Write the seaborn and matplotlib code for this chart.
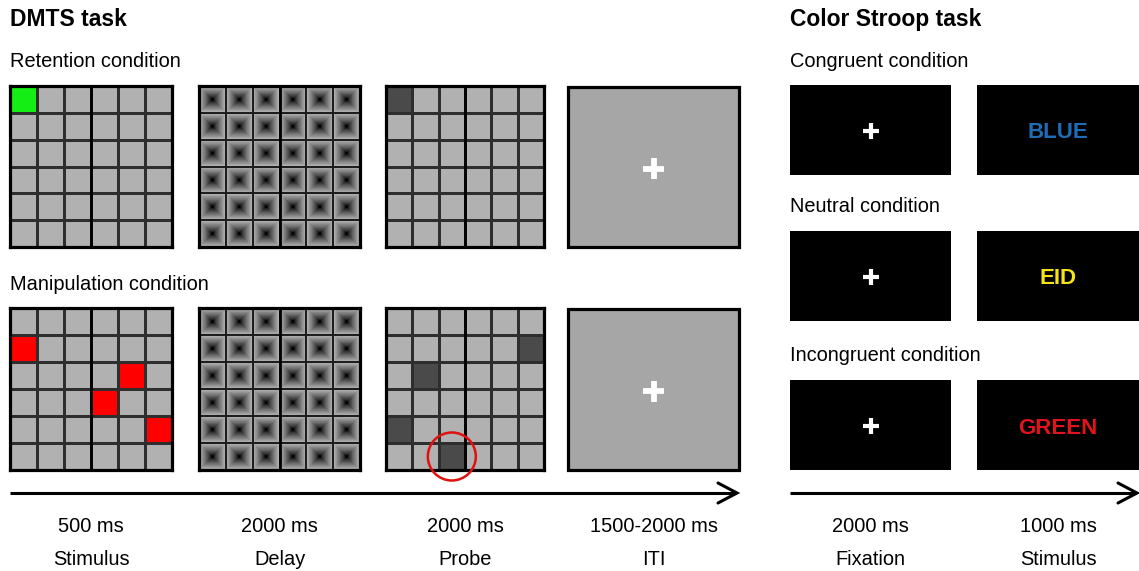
import numpy as np
import matplotlib
matplotlib.use("Agg")
import matplotlib.pyplot as plt
import seaborn as sns
from matplotlib.colors import ListedColormap
from matplotlib.patches import Rectangle, Circle

# ---------------- data ----------------
n_rows, n_cols = 6, 6
retention_stimulus = [(0, 0)]            # green cell
retention_probe = [(0, 0)]               # dark probe cell
manipulation_stimulus = [(1, 0), (2, 4), (3, 3), (4, 5)]   # red cells
manipulation_probe = [(1, 5), (2, 1), (4, 0), (5, 2)]      # dark probe cells
circled_cell = (5, 2)

dmts_conditions = ["Retention condition", "Manipulation condition"]
dmts_durations = ["500 ms", "2000 ms", "2000 ms", "1500-2000 ms"]
dmts_phases = ["Stimulus", "Delay", "Probe", "ITI"]

stroop_conditions = ["Congruent condition", "Neutral condition", "Incongruent condition"]
stroop_words = ["BLUE", "EID", "GREEN"]
stroop_word_colors = ["#1f6db6", "#f7e416", "#e3131b"]
stroop_durations = ["2000 ms", "1000 ms"]
stroop_phases = ["Fixation", "Stimulus"]

# ---------------- style ----------------
sns.set_style("white")
plt.rcParams["font.family"] = ["Liberation Sans", "DejaVu Sans"]
plt.rcParams["text.color"] = "black"

W, H = 1139, 571
fig = plt.figure(figsize=(W / 100, H / 100), dpi=100)
fig.patch.set_facecolor("white")

CELL_GRAY = "#b1b1b1"
ITI_GRAY = "#a6a6a6"
DARK = "#4a4a4a"
GREEN = "#14ee14"
RED = "#ff0000"
cmap4 = ListedColormap([CELL_GRAY, GREEN, RED, DARK])

FS = 14.4
FS_TITLE = 16.5

# layout (pixels)
col_x = [(10, 172), (199, 360), (386, 544), (568, 739)]
row_y = [(86, 247), (308, 470)]
stroop_col_x = [(790, 951), (977, 1139)]
stroop_row_y = [(85, 175), (231, 321), (380, 470)]
arrow_y = 493


def px_axes(x0, y0, x1, y1, z=1):
    return fig.add_axes([x0 / W, 1 - y1 / H, (x1 - x0) / W, (y1 - y0) / H], zorder=z)


ax_bg = fig.add_axes([0, 0, 1, 1], zorder=0)
ax_bg.set_xlim(0, W)
ax_bg.set_ylim(H, 0)
ax_bg.axis("off")


def style_grid(ax):
    ax.axvline(3, color="black", lw=2.0, zorder=3)
    for s in ax.spines.values():
        s.set_visible(True)
        s.set_linewidth(2.3)
        s.set_color("black")
    ax.set_xticks([])
    ax.set_yticks([])


def draw_cells(ax, cells, code):
    mat = np.zeros((n_rows, n_cols))
    for r, c in cells:
        mat[r, c] = code
    sns.heatmap(mat, cmap=cmap4, vmin=-0.5, vmax=3.5, cbar=False,
                linewidths=1.0, linecolor="#2e2e2e",
                xticklabels=False, yticklabels=False, ax=ax)
    style_grid(ax)


# delay texture: concentric squares, light edge -> black centre
n_px = 40
u = np.linspace(-1, 1, n_px)
d = np.maximum(np.abs(u)[None, :], np.abs(u)[:, None])
levels = 10
lv = np.clip(np.ceil(d * levels), 1, levels)
tile = 0.70 * ((lv - 1) / (levels - 1)) ** 0.75
texture = np.tile(tile, (n_rows, n_cols))


def draw_delay(ax):
    sns.heatmap(np.zeros((n_rows, n_cols)), cmap=ListedColormap([(0, 0, 0, 0)]),
                vmin=0, vmax=1, cbar=False, linewidths=1.1, linecolor="#1e1e1e",
                xticklabels=False, yticklabels=False, ax=ax)
    ax.imshow(texture, extent=(0, n_cols, n_rows, 0), cmap="gray", vmin=0, vmax=1,
              interpolation="antialiased", aspect="auto", zorder=0)
    ax.set_xlim(0, n_cols)
    ax.set_ylim(n_rows, 0)
    style_grid(ax)


stimuli = [(retention_stimulus, 1), (manipulation_stimulus, 2)]
probes = [retention_probe, manipulation_probe]

for ri, (y0, y1) in enumerate(row_y):
    ax = px_axes(col_x[0][0], y0, col_x[0][1], y1)
    draw_cells(ax, stimuli[ri][0], stimuli[ri][1])
    ax = px_axes(col_x[1][0], y0, col_x[1][1], y1)
    draw_delay(ax)
    ax = px_axes(col_x[2][0], y0, col_x[2][1], y1)
    draw_cells(ax, probes[ri], 3)
    x0, x1 = col_x[3]
    ax_bg.add_patch(Rectangle((x0, y0 + 1), x1 - x0, y1 - y0 - 1, facecolor=ITI_GRAY,
                              edgecolor="black", lw=2.3))

# stroop boxes
for ri, (y0, y1) in enumerate(stroop_row_y):
    for (x0, x1) in stroop_col_x:
        ax_bg.add_patch(Rectangle((x0, y0), x1 - x0, y1 - y0, facecolor="black",
                                  edgecolor="none"))

# overlay axes
ax = fig.add_axes([0, 0, 1, 1], zorder=10)
ax.set_xlim(0, W)
ax.set_ylim(H, 0)
ax.axis("off")
ax.patch.set_alpha(0)


def plus(cx, cy, half, lw):
    ax.plot([cx - half, cx + half], [cy, cy], color="white", lw=lw, solid_capstyle="butt")
    ax.plot([cx, cx], [cy - half, cy + half], color="white", lw=lw, solid_capstyle="butt")


for (y0, y1) in row_y:
    cx = sum(col_x[3]) / 2
    plus(cx, (y0 + y1) / 2 + 2, 10.5, 4.2)

for ri, (y0, y1) in enumerate(stroop_row_y):
    cy = (y0 + y1) / 2
    plus(sum(stroop_col_x[0]) / 2, cy + 1, 8, 3.0)
    ax.text(sum(stroop_col_x[1]) / 2, cy + 8.5, stroop_words[ri], color=stroop_word_colors[ri],
            fontsize=16, fontweight="bold", ha="center", va="baseline")

# red circle around probe cell
px0, px1 = col_x[2]
py0, py1 = row_y[1]
ccx = px0 + (circled_cell[1] + 0.5) * (px1 - px0) / n_cols
ccy = py0 + (circled_cell[0] + 0.5) * (py1 - py0) / n_rows
ax.add_patch(Circle((ccx, ccy), 24, facecolor="none", edgecolor="#e01010", lw=1.8))

# titles / condition labels
ax.text(10, 26, "DMTS task", fontsize=FS_TITLE, fontweight="bold", ha="left", va="baseline")
ax.text(790, 26, "Color Stroop task", fontsize=FS_TITLE, fontweight="bold", ha="left",
        va="baseline")
for lab, yb in zip(dmts_conditions, [67, 290]):
    ax.text(10, yb, lab, fontsize=FS, ha="left", va="baseline")
for lab, yb in zip(stroop_conditions, [67, 212, 361]):
    ax.text(790, yb, lab, fontsize=FS, ha="left", va="baseline")


def timeline(x0, x1):
    ax.plot([x0, x1 - 1], [arrow_y, arrow_y], color="black", lw=2.2, solid_capstyle="butt")
    ax.plot([x1 - 19, x1, x1 - 19], [arrow_y - 10, arrow_y, arrow_y + 10], color="black",
            lw=2.2, solid_joinstyle="miter")


timeline(10, 737)
timeline(790, 1137)

for (x0, x1), dur, ph in zip(col_x, dmts_durations, dmts_phases):
    cx = (x0 + x1) / 2
    ax.text(cx, 532, dur, fontsize=FS, ha="center", va="baseline")
    ax.text(cx, 565, ph, fontsize=FS, ha="center", va="baseline")
for (x0, x1), dur, ph in zip(stroop_col_x, stroop_durations, stroop_phases):
    cx = (x0 + x1) / 2
    ax.text(cx, 532, dur, fontsize=FS, ha="center", va="baseline")
    ax.text(cx, 565, ph, fontsize=FS, ha="center", va="baseline")

fig.savefig("out.png", dpi=100, facecolor="white")
